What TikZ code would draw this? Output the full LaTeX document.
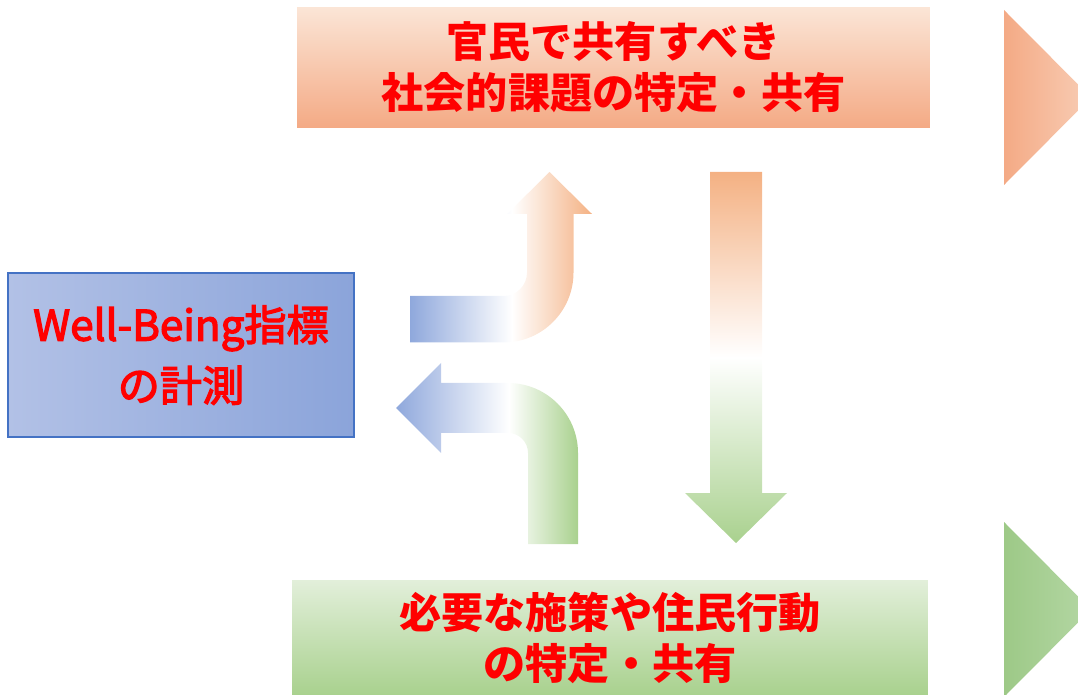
\documentclass[tikz,border=0pt]{standalone}
\usepackage{fontspec}
\newfontfamily\jpfont{Noto Sans CJK JP}
\newfontfamily\jpmfont[FakeBold=3]{Noto Sans CJK JP}
\definecolor{kadaiA}{HTML}{FBE5D6}
\definecolor{kadaiB}{HTML}{F4AA85}
\definecolor{sesakuA}{HTML}{E2EFDA}
\definecolor{sesakuB}{HTML}{A9D18E}
\definecolor{wbA}{HTML}{B2C1E6}
\definecolor{wbB}{HTML}{8BA4DA}
\definecolor{wbline}{HTML}{4472C4}
\definecolor{arrblue}{HTML}{8FA8DC}
\definecolor{arrorange}{HTML}{F4B183}
\definecolor{arrgreen}{HTML}{A9D18E}
\definecolor{sankakuA}{HTML}{9DC987}
\definecolor{sankakuB}{HTML}{B4D7A4}
\pgfdeclarehorizontalshading{upshade}{100bp}{color(0bp)=(arrblue); color(25bp)=(arrblue);
  color(53bp)=(white); color(75bp)=(arrorange); color(100bp)=(arrorange)}
\pgfdeclarehorizontalshading{backshade}{100bp}{color(0bp)=(arrblue); color(25bp)=(arrblue);
  color(56bp)=(white); color(75bp)=(arrgreen); color(100bp)=(arrgreen)}
\pgfdeclareverticalshading{downshade}{100bp}{color(0bp)=(arrgreen); color(25bp)=(arrgreen);
  color(50bp)=(white); color(75bp)=(arrorange); color(100bp)=(arrorange)}

\begin{document}
\begin{tikzpicture}[x=0.02cm,y=-0.02cm,
  midasi/.style={text=red,align=center,inner sep=0pt,
    font=\jpfont\bfseries\fontsize{24}{29}\selectfont},
  kadaibox/.style={midasi,minimum width=12.66cm,minimum height=2.4cm,
    top color=kadaiA,bottom color=kadaiB},
  sesakubox/.style={midasi,minimum width=12.72cm,minimum height=2.3cm,
    top color=sesakuA,bottom color=sesakuB},
  wbbox/.style={text=red,align=center,inner sep=0pt,
    font=\jpmfont\fontsize{24}{34.5}\selectfont,
    minimum width=6.92cm,minimum height=3.28cm,
    left color=wbA,right color=wbB,draw=wbline,line width=0.75pt}]
  \useasboundingbox (0,0) rectangle (1078,695);

  \node[kadaibox] (kadai) at (613.5,67.5) {官民で共有すべき\\社会的課題の特定・共有};
  \node[sesakubox] (sesaku) at (610,637.5) {必要な施策や住民行動\\の特定・共有};
  \node[wbbox] (keisoku) at (181,355) {Well-Being指標\\の計測};

  % arrows
  \shade[shading=upshade] (410,296) -- (503.5,296) arc[start angle=90,end angle=0,radius=23.5]
    -- (527,214) -- (507,214) -- (549.5,172) -- (592,214) -- (573.5,214) -- (573.5,272.5)
    arc[start angle=0,end angle=90,radius=70] -- (410,342.5) -- cycle;
  \shade[shading=backshade] (396,408) -- (441,363) -- (441,383) -- (508,383)
    arc[start angle=-90,end angle=0,radius=70] -- (578,544) -- (528,544) -- (528,453)
    arc[start angle=0,end angle=-90,radius=20] -- (441,433) -- (441,453) -- cycle;
  \shade[shading=downshade]
    (710,172) -- (762,172) -- (762,493) -- (787,493) -- (736,543) -- (685,493) -- (710,493) -- cycle;

  \shade[left color=kadaiB,right color=kadaiA!60!kadaiB] (1004,10) -- (1091,97.5) -- (1004,185) -- cycle;
  \shade[left color=sankakuA,right color=sankakuB] (1004,522) -- (1091,609.5) -- (1004,697) -- cycle;
\end{tikzpicture}
\end{document}
